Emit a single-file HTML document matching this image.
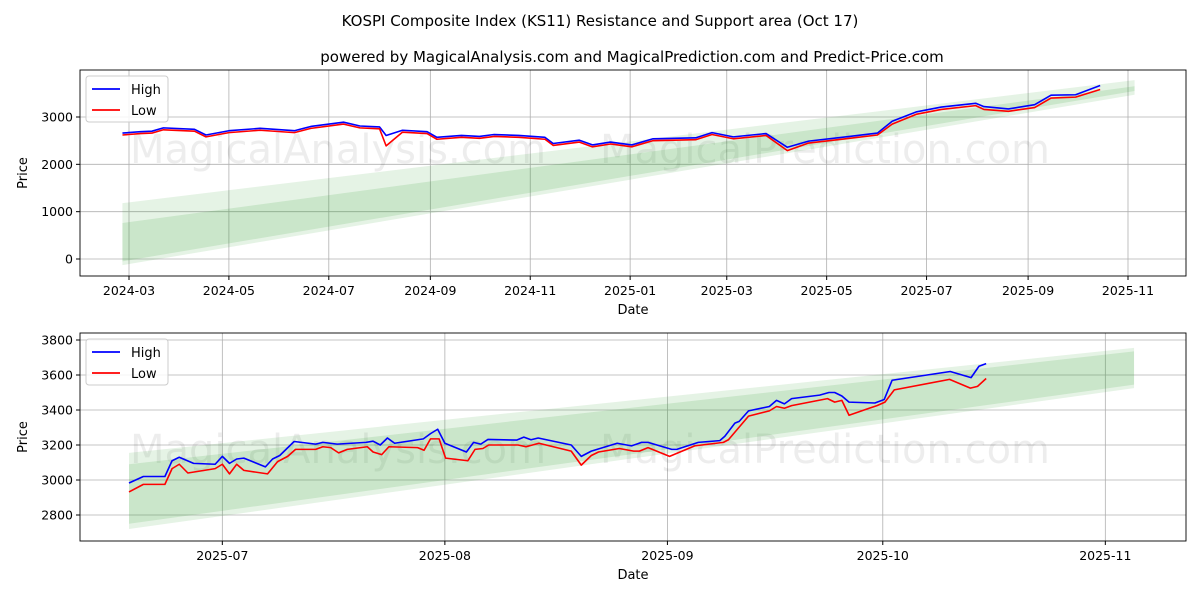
<!DOCTYPE html>
<html><head><meta charset="utf-8"><style>
body{margin:0;background:#fff;font-family:"Liberation Sans","DejaVu Sans",sans-serif}
svg text{font-family:"DejaVu Sans","Liberation Sans",sans-serif}
</style></head><body>
<svg id="c" width="1200" height="600" xmlns="http://www.w3.org/2000/svg">
<text x="600" y="26" text-anchor="middle" font-size="15">KOSPI Composite Index (KS11) Resistance and Support area (Oct 17)</text>
<text x="632" y="62" text-anchor="middle" font-size="15">powered by MagicalAnalysis.com and MagicalPrediction.com and Predict-Price.com</text>
</svg>
<script>
// ---- top chart data ----
const topDates=["2024-02-26","2024-03-08","2024-03-15","2024-03-22","2024-04-10","2024-04-17","2024-05-01","2024-05-20","2024-06-10","2024-06-20","2024-07-10","2024-07-20","2024-08-01","2024-08-05","2024-08-15","2024-08-30","2024-09-05","2024-09-20","2024-10-01","2024-10-10","2024-10-25","2024-11-10","2024-11-15","2024-12-01","2024-12-09","2024-12-20","2025-01-02","2025-01-15","2025-02-10","2025-02-20","2025-03-05","2025-03-25","2025-04-07","2025-04-20","2025-05-15","2025-06-01","2025-06-10","2025-06-25","2025-07-10","2025-07-31","2025-08-05","2025-08-20","2025-09-05","2025-09-15","2025-09-30","2025-10-15"];
const topHigh=[2660,2690,2700,2770,2740,2620,2710,2760,2710,2800,2890,2810,2790,2610,2720,2690,2570,2610,2590,2630,2610,2570,2440,2510,2410,2470,2410,2540,2560,2670,2580,2650,2360,2490,2590,2660,2910,3110,3210,3290,3220,3170,3260,3460,3470,3665];
const topLow=[2620,2650,2660,2730,2700,2580,2670,2720,2670,2760,2850,2770,2750,2390,2680,2650,2530,2570,2550,2590,2570,2530,2400,2470,2370,2430,2370,2500,2520,2630,2540,2610,2290,2450,2550,2620,2850,3060,3160,3240,3160,3120,3200,3400,3420,3580];
const topBandDates=["2024-02-26","2025-11-05"];
const topOuterUp=[1180,3780], topOuterLo=[-130,3470];
const topInnerUp=[760,3650], topInnerLo=[-50,3550];
const topYTicks=[0,1000,2000,3000];
const topXTicks=["2024-03","2024-05","2024-07","2024-09","2024-11","2025-01","2025-03","2025-05","2025-07","2025-09","2025-11"];
// ---- bottom chart data (days since 2025-06-18) ----
const botHighDays=[0,2,5,6,7,9,12,13,14,15,16,19,20,21,23,26,27,29,33,34,35,36,37,41,42,43,44,47,48,49,50,54,55,56,57,61.6,63,64.4,68,70,71.4,72.3,75.6,76.3,79.3,82.3,83,84.4,85,86.3,89.2,90.2,91.3,92.3,96.2,97.5,98.3,99.3,100.3,103.9,105.2,106.3,114.4,117.3,118.4,119.4];
const botHigh=[2983,3020,3020,3110,3130,3095,3090,3135,3095,3120,3125,3075,3120,3140,3220,3205,3215,3205,3215,3222,3200,3240,3210,3235,3265,3290,3210,3160,3215,3205,3232,3228,3245,3230,3240,3200,3135,3165,3210,3195,3215,3215,3175,3175,3215,3225,3250,3325,3335,3395,3420,3455,3435,3465,3485,3500,3500,3480,3445,3440,3460,3570,3620,3585,3650,3665];
const botLowDays=[0,2,5,6,7,8.2,12,13,14,15,16,19.3,20.7,22.1,23.2,26,27,28.1,29.2,30.4,33.2,34,35.2,36.2,40.2,41.1,42,43.2,44.1,47.2,48.2,49.3,50.1,54.2,55.3,57.1,61.6,63,64.4,65.4,68.3,70.3,71.1,72.3,75.3,78.8,82.8,83.5,86.3,89.2,90.2,91.3,92.3,97.3,98.3,99.3,100.3,103.1,104.2,105.3,106.6,114.3,117.2,118.2,119.4];
const botLow=[2932,2975,2975,3065,3090,3040,3065,3090,3035,3090,3055,3035,3105,3135,3175,3175,3190,3185,3155,3175,3190,3160,3145,3190,3185,3170,3235,3235,3125,3110,3175,3180,3200,3200,3190,3210,3165,3085,3140,3160,3180,3165,3165,3185,3135,3195,3215,3230,3365,3395,3420,3410,3425,3465,3445,3455,3370,3410,3425,3445,3515,3575,3525,3535,3580];
const botBandDays=[0,140];
const botOuterUp=[3155,3755], botOuterLo=[2720,3525];
const botInnerUp=[3090,3735], botInnerLo=[2750,3545];
const botYTicks=[2800,3000,3200,3400,3600,3800];
const botXTicks=["2025-07","2025-08","2025-09","2025-10","2025-11"];

const NS="http://www.w3.org/2000/svg", svg=document.getElementById('c');
function mk(t,a,p){const e=document.createElementNS(NS,t);for(const k in a)e.setAttribute(k,a[k]);(p||svg).appendChild(e);return e;}
const day=s=>Date.parse(s.length==7?s+"-01":s)/864e5;
function panel(P){
  const g=mk('g',{});
  
  
  const X=P.x,Y=P.y;
  P.yt.forEach(v=>{const l=mk('line',{x1:P.l,x2:P.r,y1:Y(v),y2:Y(v),stroke:'#b0b0b0','stroke-width':0.8},g);
    
    
    mk('line',{x1:P.l-4,x2:P.l,y1:Y(v),y2:Y(v),stroke:'#000'},g);
    const t=mk('text',{x:P.l-7,y:Y(v)+4.5,'text-anchor':'end','font-size':12.5},g);t.textContent=v;
    
    });
  P.xt.forEach(s=>{const x=X(P.xd(s));const l=mk('line',{x1:x,x2:x,y1:P.t,y2:P.b,stroke:'#b0b0b0','stroke-width':0.8},g);
    
    
    mk('line',{x1:x,x2:x,y1:P.b,y2:P.b+4,stroke:'#000'},g);
    const t=mk('text',{x:x,y:P.b+19,'text-anchor':'middle','font-size':12.5},g);t.textContent=s;
    
    });
  [[P.l+50,'MagicalAnalysis.com'],[P.l+520,'MagicalPrediction.com']].forEach(w=>{const t=mk('text',{x:w[0],y:P.wy,'font-size':40,fill:'#000','fill-opacity':0.07},g);t.textContent=w[1];
    
    });
  const bx=P.bd.map(d=>X(d));
  const poly=(up,lo,op,nm)=>{const p=mk('polygon',{points:`${bx[0]},${Y(up[0])} ${bx[1]},${Y(up[1])} ${bx[1]},${Y(lo[1])} ${bx[0]},${Y(lo[0])}`,fill:'#2ca02c','fill-opacity':op},g);
    
    };
  poly(P.ou,P.ol,0.12,'resistance-support-band-outer');
  poly(P.iu,P.il,0.15,'resistance-support-band-inner');
  const line=(xs,ys,c,nm)=>{const p=mk('polyline',{points:xs.map((d,i)=>X(d)+','+Y(ys[i])).join(' '),fill:'none',stroke:c,'stroke-width':1.6,'stroke-linejoin':'round'},g);
    
    };
  line(P.hx,P.hy,'#0000ff','high-line');
  line(P.lx,P.ly,'#ff0000','low-line');
  const fr=mk('rect',{x:P.l,y:P.t,width:P.r-P.l,height:P.b-P.t,fill:'none',stroke:'#000','stroke-width':0.9},g);
  
  
  const lg=mk('g',{},g);
  
  
  mk('rect',{x:P.l+6,y:P.t+6,width:82,height:46,rx:3,fill:'#fff','fill-opacity':0.85,stroke:'#ccc'},lg);
  [['High','#0000ff',P.t+19],['Low','#ff0000',P.t+40]].forEach(e=>{
    const ent=mk('g',{},lg);
    
    
    mk('line',{x1:P.l+12,x2:P.l+40,y1:e[2],y2:e[2],stroke:e[1],'stroke-width':1.8},ent);
    const t=mk('text',{x:P.l+51,y:e[2]+5,'font-size':13},ent);t.textContent=e[0];});
  const xl=mk('text',{x:(P.l+P.r)/2,y:P.b+38,'text-anchor':'middle','font-size':13},g);xl.textContent='Date';
  
  
  const yl=mk('text',{x:27,y:(P.t+P.b)/2,'text-anchor':'middle','font-size':13,transform:`rotate(-90 27 ${(P.t+P.b)/2})`},g);yl.textContent='Price';
  
  
}
const tx0=day("2024-03-01"),tx1=day("2025-11-01");
panel({name:'top-panel',l:80,r:1186,t:70,b:276,wy:163,
  x:d=>129+(d-tx0)*(1128-129)/(tx1-tx0), y:v=>259-v*(259-117)/3000,
  xd:day, yt:topYTicks, xt:topXTicks,
  bd:topBandDates.map(day), ou:topOuterUp, ol:topOuterLo, iu:topInnerUp, il:topInnerLo,
  hx:topDates.map(day), hy:topHigh, lx:topDates.map(day), ly:topLow});
const b0=day("2025-06-18"), bj=day("2025-07-01"), bn=day("2025-11-01");
const bs=(1105-222)/(bn-bj);
panel({name:'bottom-panel',l:80,r:1186,t:333,b:541,wy:463,
  x:d=>129+d*bs, y:v=>480-(v-3000)*(480-340)/800,
  xd:s=>day(s)-b0, yt:botYTicks, xt:botXTicks,
  bd:botBandDays, ou:botOuterUp, ol:botOuterLo, iu:botInnerUp, il:botInnerLo,
  hx:botHighDays, hy:botHigh, lx:botLowDays, ly:botLow});
</script>
</body></html>
